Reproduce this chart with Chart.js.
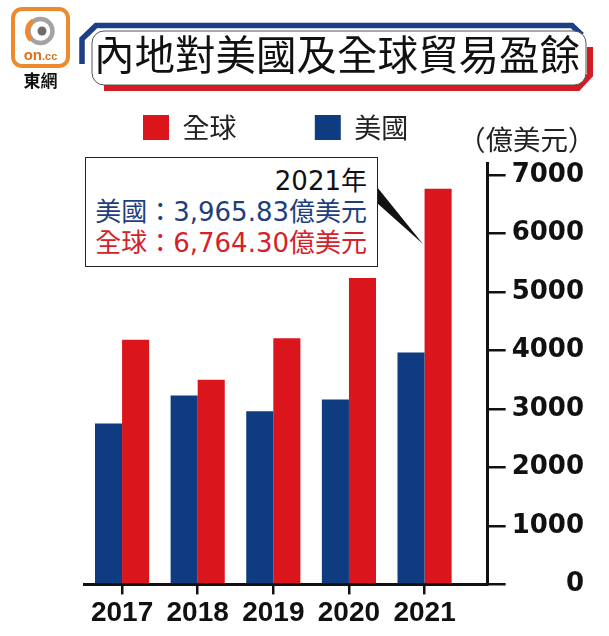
<!DOCTYPE html>
<html>
<head>
<meta charset="utf-8">
<script src="https://cdn.jsdelivr.net/npm/chart.js@4.4.1/dist/chart.umd.min.js"></script>
<style>
  html, body { margin: 0; padding: 0; background: #fff; }
  #wrap { position: relative; width: 609px; height: 636px; overflow: hidden; background: #fff; }
  #c { position: absolute; left: 0; top: 0; }
  .ov { position: absolute; }
  #title {
    left: 90px; top: 31px; width: 494px; height: 54px; box-sizing: border-box; padding-bottom: 10px;
    display: flex; align-items: center; justify-content: center;
    font-family: "Noto Sans CJK TC", sans-serif; font-size: 40.5px; color: #111;
    line-height: 1; white-space: nowrap;
  }
  #unit {
    left: 458px; top: 120px; font-family: "Noto Sans CJK TC", sans-serif;
    font-size: 27.5px; line-height: 36px; color: #222; white-space: nowrap;
  }
  #note {
    left: 85px; top: 157px; width: 293px; height: 110px; box-sizing: border-box;
    border: 1.5px solid #222; background: #fff; padding: 8px 10px 0 0;
    font-family: "DejaVu Sans", "Noto Sans CJK TC", sans-serif; font-size: 26px;
    text-align: right; white-space: nowrap;
  }
  #note div { height: 31px; line-height: 31px; }
</style>
</head>
<body>
<div id="wrap">
  <canvas id="c" width="609" height="636"></canvas>

  <svg class="ov" width="609" height="636" style="left:0;top:0;pointer-events:none">
    <!-- logo -->
    <rect x="13" y="9" width="55" height="57" rx="9" fill="#fff" stroke="#ee8a2e" stroke-width="4"/>
    <circle cx="40.5" cy="31" r="12" fill="none" stroke="#a3a3a3" stroke-width="4.5"/>
    <path d="M 33 21 A 12 12 0 0 0 31 40" fill="none" stroke="#ee8a2e" stroke-width="4.5"/>
    <circle cx="42" cy="31" r="4.5" fill="#6d6d6d"/>
    <text x="40.5" y="60" font-family="Liberation Sans" font-weight="bold" font-size="15" fill="#d9731c" text-anchor="middle">on<tspan font-size="11">.cc</tspan></text>
    <text x="40.5" y="87" font-family="Noto Sans CJK TC" font-weight="bold" font-size="17" fill="#111" text-anchor="middle">東網</text>
    <!-- title banner -->
    <polyline points="82,64 82,39 96,25.5 572,25.5 582,35" fill="none" stroke="#1d3f88" stroke-width="5.5" stroke-linejoin="miter"/>
    <polyline points="104,88 578,88 590,75 590,47" fill="none" stroke="#d31b22" stroke-width="6" stroke-linejoin="miter"/>
    <rect x="92" y="31" width="494" height="54" rx="12" fill="#fff" stroke="#555" stroke-width="1"/>
    <!-- callout pointer -->
    <polygon points="377,187 377,203 423,244" fill="#111"/>
  </svg>

  <div id="title" class="ov"></div>
  <div id="unit" class="ov"></div>
  <div id="note" class="ov">
    <div id="noteYear" style="color:#111"></div>
    <div id="noteUS" style="color:#1d3f7e"></div>
    <div id="noteGL" style="color:#d3222a"></div>
  </div>
</div>

<script>
// ---------------- data ----------------
const chartTitle = '內地對美國及全球貿易盈餘';
const unitLabel = '（億美元）';
const years = ['2017', '2018', '2019', '2020', '2021'];
const seriesUS = '美國';
const seriesGlobal = '全球';
const usSurplus = [2750, 3230, 2960, 3160, 3965.83];
const globalSurplus = [4185, 3500, 4210, 5240, 6764.30];
const yTicks = [0, 1000, 2000, 3000, 4000, 5000, 6000, 7000];
const noteYearLabel = '2021年';
const noteUnit = '億美元';

// ---------------- styles ----------------
const BLUE = '#0f3b80';
const RED = '#da161c';
const INK = '#111';

const fmt = v => v.toLocaleString('en-US', { minimumFractionDigits: 2, maximumFractionDigits: 2 });
const last = years.length - 1;
document.getElementById('title').textContent = chartTitle;
document.getElementById('unit').textContent = unitLabel;
document.getElementById('noteYear').textContent = noteYearLabel;
document.getElementById('noteUS').textContent = seriesUS + '：' + fmt(usSurplus[last]) + noteUnit;
document.getElementById('noteGL').textContent = seriesGlobal + '：' + fmt(globalSurplus[last]) + noteUnit;

const LEGEND_GAP = '\u2002 ';

new Chart(document.getElementById('c'), {
  type: 'bar',
  data: {
    datasets: [
      {
        label: seriesUS,
        data: usSurplus.map((v, i) => ({ x: i, y: v })),
        backgroundColor: BLUE, borderWidth: 0,
        categoryPercentage: 0.716, barPercentage: 1.0
      },
      {
        label: seriesGlobal,
        data: globalSurplus.map((v, i) => ({ x: i, y: v })),
        backgroundColor: RED, borderWidth: 0,
        categoryPercentage: 0.716, barPercentage: 1.0
      }
    ]
  },
  options: {
    responsive: false,
    animation: false,
    devicePixelRatio: 1,
    layout: { padding: { left: 84.25, right: 25, top: 55.25, bottom: 4 } },
    plugins: {
      tooltip: { enabled: false },
      title: { display: true, text: '', weight: 500, padding: 0, font: { size: 10, lineHeight: 1.2 } },
      legend: {
        position: 'top',
        align: 'start',
        labels: {
          boxWidth: 26, boxHeight: 25, padding: 58.75,
          color: '#222',
          font: { family: 'Noto Sans CJK TC', size: 27 },
          generateLabels: chart => {
            const items = Chart.defaults.plugins.legend.labels.generateLabels(chart).reverse();
            items[0].text = items[0].text + LEGEND_GAP;
            return items;
          }
        }
      }
    },
    scales: {
      x: {
        type: 'linear',
        min: -0.5,
        max: 4.834,
        offset: false,
        afterBuildTicks: s => { s.ticks = years.map((_, i) => ({ value: i })); },
        ticks: {
          callback: v => years[v],
          autoSkip: false, maxRotation: 0,
          color: INK, padding: 2,
          font: { family: 'Liberation Sans', weight: 'bold', size: 28 }
        },
        grid: { drawOnChartArea: false, offset: false, tickLength: 10, color: INK, lineWidth: 2.5 },
        border: { color: INK, width: 3 }
      },
      y: {
        position: 'right',
        min: 0,
        max: 7205,
        afterBuildTicks: s => { s.ticks = yTicks.map(v => ({ value: v })); },
        ticks: {
          callback: v => String(v),
          crossAlign: 'far', padding: 3, color: INK,
          font: { family: 'DejaVu Sans', weight: 'bold', size: 26, lineHeight: 1 }
        },
        grid: { drawOnChartArea: false, tickLength: 18, color: INK, lineWidth: 2.5 },
        border: { color: INK, width: 3 }
      }
    }
  }
});
</script>
</body>
</html>
